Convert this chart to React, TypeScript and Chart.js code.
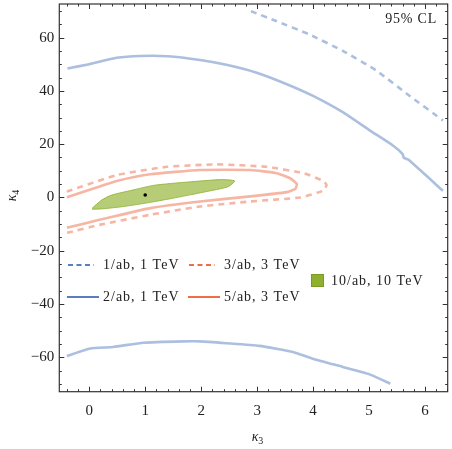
import React, { useEffect, useRef } from "react";
import { Chart, registerables } from "chart.js";

Chart.register(...registerables);

// κ3 (x) / κ4 (y) contour points
const blueSolidUpperX = [-0.39, 0.0, 0.49, 0.91, 1.4, 1.98, 2.45, 2.98, 3.52, 3.99, 4.53, 5.01, 5.42, 5.6, 5.62, 5.7, 6.32];
const blueSolidUpperY = [48.4, 50.0, 52.4, 53.1, 53.0, 51.6, 49.8, 46.9, 42.6, 38.2, 32.0, 25.2, 19.6, 16.3, 14.9, 14.2, 2.5];
const blueSolidLowerX = [-0.4, 0.02, 0.43, 0.97, 1.68, 1.98, 2.45, 3.04, 3.64, 3.99, 4.53, 5.01, 5.38];
const blueSolidLowerY = [-59.5, -56.7, -56.1, -54.5, -54.0, -54.0, -54.7, -55.7, -58.0, -60.5, -63.6, -66.4, -69.9];
const blueDashedX = [2.89, 3.34, 3.93, 4.53, 5.13, 5.72, 6.32];
const blueDashedY = [69.9, 66.2, 61.2, 55.0, 47.6, 38.2, 28.9];
const orangeSolidX = [-0.4, 0.2, 0.49, 1.09, 1.98, 2.88, 3.35, 3.59, 3.71, 3.68, 3.53, 2.88, 1.98, 1.09, 0.2, -0.4];
const orangeSolidY = [0.1, 4.2, 6.2, 8.7, 10.3, 10.3, 9.1, 7.2, 5.0, 3.2, 2.0, 0.4, -1.5, -4.0, -8.3, -11.4];
const orangeDashedX = [-0.4, 0.49, 1.39, 2.28, 3.17, 3.83, 4.18, 4.24, 4.18, 3.77, 2.88, 1.98, 1.09, 0.2, -0.4];
const orangeDashedY = [2.2, 8.4, 11.5, 12.4, 11.5, 9.1, 6.2, 4.7, 2.5, 0.0, -1.5, -3.4, -6.5, -10.2, -13.3];
const greenX = [0.05, 0.22, 0.4, 0.76, 1.17, 1.77, 2.36, 2.6, 2.48, 2.07, 1.47, 0.99, 0.58, 0.22, 0.05];
const greenY = [-4.1, -1.0, 0.9, 2.7, 4.6, 5.8, 6.7, 6.2, 4.0, 2.1, -0.4, -2.2, -3.5, -4.3, -4.4];
const bestFitX = [1];
const bestFitY = [0.9];

const legendLabels = ["1/ab, 1 TeV", "3/ab, 3 TeV", "2/ab, 1 TeV", "5/ab, 3 TeV", "10/ab, 10 TeV"];
const xTicks = [0, 1, 2, 3, 4, 5, 6];
const yTicks = [-60, -40, -20, 0, 20, 40, 60];

const X_MIN = -0.535;
const X_MAX = 6.405;
const Y_MIN = -72.9;
const Y_MAX = 72.6;

const BLUE = "#5a7fc0";
const ORANGE = "#ee6e48";
const BLUE_L = "rgba(90,127,192,0.5)";
const ORANGE_L = "rgba(238,110,72,0.5)";
const GREEN = "#8fb02e";
const GREEN_FILL = "rgba(143,176,46,0.65)";
const SERIF = "'Liberation Serif', 'DejaVu Serif', serif";

const pts = (xs: number[], ys: number[]) => xs.map((x, i) => ({ x, y: ys[i] }));

const framePlugin = {
  id: "frame",
  afterDraw(chart: any) {
    const { ctx, chartArea: a, scales } = chart;
    const xs = scales.x;
    const ys = scales.y;
    ctx.save();
    ctx.strokeStyle = "#333";
    ctx.lineWidth = 1.2;
    ctx.strokeRect(a.left, a.top, a.right - a.left, a.bottom - a.top);
    ctx.lineWidth = 1;
    ctx.beginPath();
    for (let v = -0.4; v <= X_MAX + 1e-6; v += 0.2) {
      const r = Math.round(v * 10) / 10;
      const major = Math.abs(r - Math.round(r)) < 1e-6;
      const len = major ? 5 : 2.5;
      const px = Math.round(xs.getPixelForValue(r)) + 0.5;
      ctx.moveTo(px, a.bottom);
      ctx.lineTo(px, a.bottom - len);
      ctx.moveTo(px, a.top);
      ctx.lineTo(px, a.top + len);
    }
    for (let v = -70; v <= 70; v += 5) {
      const major = v % 20 === 0;
      const len = major ? 5 : 2.5;
      const py = Math.round(ys.getPixelForValue(v)) + 0.5;
      ctx.moveTo(a.left, py);
      ctx.lineTo(a.left + len, py);
      ctx.moveTo(a.right, py);
      ctx.lineTo(a.right - len, py);
    }
    ctx.stroke();

    // axis titles
    ctx.fillStyle = "#222";
    ctx.textBaseline = "alphabetic";
    ctx.textAlign = "left";
    const drawKappa = (sub: string) => {
      ctx.font = `italic 14px ${SERIF}`;
      const w = ctx.measureText("κ").width;
      ctx.fillText("κ", -w / 2 - 2, 4);
      ctx.font = `10px ${SERIF}`;
      ctx.fillText(sub, w / 2 - 2, 7);
    };
    ctx.save();
    ctx.translate(257, 437);
    drawKappa("3");
    ctx.restore();
    ctx.save();
    ctx.translate(12, 196);
    ctx.rotate(-Math.PI / 2);
    drawKappa("4");
    ctx.restore();

    // annotation
    ctx.font = `14px ${SERIF}`;
    (ctx as any).letterSpacing = "0.8px";
    ctx.textAlign = "right";
    ctx.textBaseline = "middle";
    ctx.fillText("95% CL", 437, 19);

    // legend
    (ctx as any).letterSpacing = "1px";
    ctx.textAlign = "left";
    const line = (x0: number, x1: number, y: number, color: string, dashed: boolean, label: string, tx: number) => {
      ctx.strokeStyle = color;
      ctx.lineWidth = 2;
      ctx.setLineDash(dashed ? [5, 3.5] : []);
      ctx.beginPath();
      ctx.moveTo(x0, y);
      ctx.lineTo(x1, y);
      ctx.stroke();
      ctx.setLineDash([]);
      ctx.fillStyle = "#222";
      ctx.fillText(label, tx, y);
    };
    line(68, 94, 265, BLUE, true, legendLabels[0], 103);
    line(189, 215, 265, ORANGE, true, legendLabels[1], 224);
    line(67, 99, 297, BLUE, false, legendLabels[2], 103);
    line(188, 220, 297, ORANGE, false, legendLabels[3], 224);
    ctx.fillStyle = GREEN;
    ctx.fillRect(311, 274, 13, 13);
    ctx.strokeStyle = "#7a9a20";
    ctx.lineWidth = 1;
    ctx.strokeRect(311.5, 274.5, 12, 12);
    ctx.fillStyle = "#222";
    ctx.fillText(legendLabels[4], 331, 281);
    (ctx as any).letterSpacing = "0px";
    ctx.restore();
  },
};

export default function App() {
  const ref = useRef<HTMLCanvasElement>(null);
  useEffect(() => {
    if (!ref.current) return;
    const lineDs = (data: any[], color: string, dashed: boolean) => ({
      type: "line" as const,
      data,
      borderColor: color,
      borderWidth: 2.6,
      borderDash: dashed ? [6, 5] : [],
      pointRadius: 0,
      tension: 0.15,
      fill: false,
      showLine: true,
      order: 2,
    });
    const chart = new Chart(ref.current, {
      type: "scatter",
      data: {
        datasets: [
          {
            type: "line" as const,
            data: pts(greenX, greenY),
            borderColor: "rgba(143,176,46,0.8)",
            backgroundColor: GREEN_FILL,
            borderWidth: 1,
            pointRadius: 0,
            tension: 0.2,
            fill: "shape",
            showLine: true,
            order: 1,
          } as any,
          lineDs(pts(orangeSolidX, orangeSolidY), ORANGE_L, false),
          lineDs(pts(orangeDashedX, orangeDashedY), ORANGE_L, true),
          lineDs(pts(blueSolidUpperX, blueSolidUpperY), BLUE_L, false),
          lineDs(pts(blueSolidLowerX, blueSolidLowerY), BLUE_L, false),
          lineDs(pts(blueDashedX, blueDashedY), BLUE_L, true),
          {
            type: "scatter" as const,
            data: pts(bestFitX, bestFitY),
            pointRadius: 1.8,
            backgroundColor: "#000",
            borderWidth: 0,
            order: 0,
          },
        ],
      },
      options: {
        responsive: false,
        animation: false,
        layout: { padding: { top: 1, right: 4.3, left: 0, bottom: 0 } },
        plugins: { legend: { display: false }, tooltip: { enabled: false } },
        scales: {
          x: {
            type: "linear",
            min: X_MIN,
            max: X_MAX,
            grid: { display: false, drawTicks: false },
            border: { display: false },
            afterFit: (s: any) => {
              s.height = 57.3;
              s.paddingLeft = 0;
              s.paddingRight = 0;
            },
            afterBuildTicks: (s: any) => {
              s.ticks = xTicks.map((v) => ({ value: v }));
            },
            ticks: {
              color: "#222",
              font: { family: SERIF, size: 15 },
              padding: 10,
              maxRotation: 0,
              callback: (v: any) => String(v),
            },
          },
          y: {
            type: "linear",
            min: Y_MIN,
            max: Y_MAX,
            grid: { display: false, drawTicks: false },
            border: { display: false },
            afterFit: (s: any) => {
              s.width = 59.3;
              s.paddingTop = 0;
              s.paddingBottom = 0;
            },
            afterBuildTicks: (s: any) => {
              s.ticks = yTicks.map((v) => ({ value: v }));
            },
            ticks: {
              color: "#222",
              font: { family: SERIF, size: 15 },
              padding: 5,
              callback: (v: any) => (v < 0 ? "\u2212" + Math.abs(v) : String(v)),
            },
          },
        },
      },
      plugins: [framePlugin],
    });
    return () => chart.destroy();
  }, []);
  return (
    <div style={{ position: "fixed", left: 0, top: 0, width: 452, height: 449, background: "#fff" }}>
      <canvas ref={ref} width={452} height={449} style={{ width: 452, height: 449 }} />
    </div>
  );
}
